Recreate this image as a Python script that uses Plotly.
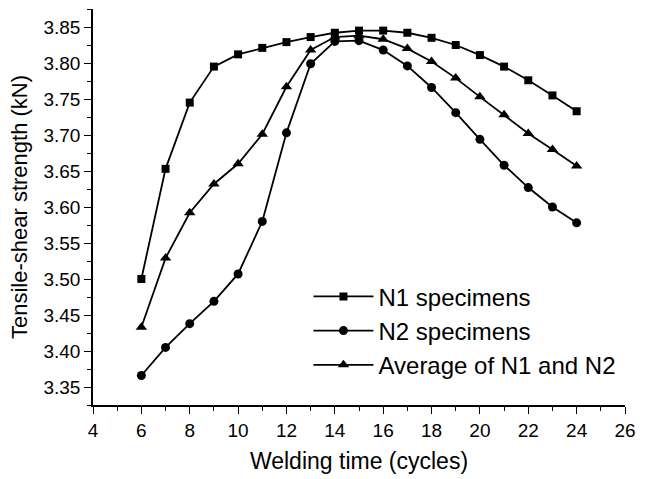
import plotly.graph_objects as go

weld_time = [6, 7, 8, 9, 10, 11, 12, 13, 14, 15, 16, 17, 18, 19, 20, 21, 22, 23, 24]
n1 = [3.500, 3.653, 3.745, 3.795, 3.812, 3.821, 3.829, 3.836, 3.842, 3.845,
      3.845, 3.842, 3.835, 3.825, 3.811, 3.795, 3.776, 3.755, 3.733]
n2 = [3.366, 3.405, 3.438, 3.469, 3.507, 3.580, 3.703, 3.799, 3.830, 3.831,
      3.818, 3.796, 3.766, 3.731, 3.694, 3.658, 3.627, 3.600, 3.578]
avg = [3.433, 3.529, 3.592, 3.632, 3.660, 3.701, 3.767, 3.818, 3.836, 3.838,
       3.833, 3.820, 3.802, 3.779, 3.753, 3.728, 3.702, 3.680, 3.657]
names = ["N1 specimens", "N2 specimens", "Average of N1 and N2"]
x_ticks = [4, 6, 8, 10, 12, 14, 16, 18, 20, 22, 24, 26]
y_ticks = [3.35, 3.40, 3.45, 3.50, 3.55, 3.60, 3.65, 3.70, 3.75, 3.80, 3.85]

FONT = "Liberation Sans, Arial, sans-serif"

fig = go.Figure()
for ys, name, sym, sz in [(n1, names[0], "square", 8),
                          (n2, names[1], "circle", 9),
                          (avg, names[2], "triangle-up", 10)]:
    fig.add_trace(go.Scatter(
        x=weld_time, y=ys, name=name, mode="lines+markers",
        line=dict(color="black", width=1.8),
        marker=dict(symbol=sym, size=sz, color="black"),
    ))

axis_common = dict(
    showline=True, linecolor="black", linewidth=1.5, mirror=False,
    showgrid=False, zeroline=False, ticks="outside", ticklen=7,
    tickwidth=1.2, tickcolor="black",
    tickfont=dict(family=FONT, size=19, color="black"),
)

fig.update_layout(
    width=645, height=479,
    margin=dict(l=93, r=12, t=9, b=72),
    paper_bgcolor="white", plot_bgcolor="white",
    font=dict(family=FONT, color="black"),
    showlegend=True,
    legend=dict(
        x=0.405, y=0.33, xanchor="left", yanchor="top",
        bgcolor="rgba(0,0,0,0)", borderwidth=0,
        font=dict(family=FONT, size=24, color="black"),
        itemwidth=60,
    ),
    xaxis=dict(
        **axis_common, range=[4, 26], tickvals=x_ticks,
        minor=dict(dtick=1, ticks="outside", ticklen=4, tickcolor="black", tickwidth=1.2),
        title=dict(text="Welding time (cycles)", font=dict(family=FONT, size=23), standoff=13),
    ),
    yaxis=dict(
        **axis_common, range=[3.325, 3.875], tickvals=y_ticks, tickformat=".2f",
        minor=dict(dtick=0.025, tick0=3.35, ticks="outside", ticklen=4, tickcolor="black", tickwidth=1.2),
        title=dict(text="Tensile-shear strength (kN)", font=dict(family=FONT, size=22), standoff=10),
    ),
)

fig.write_html("out.html")
